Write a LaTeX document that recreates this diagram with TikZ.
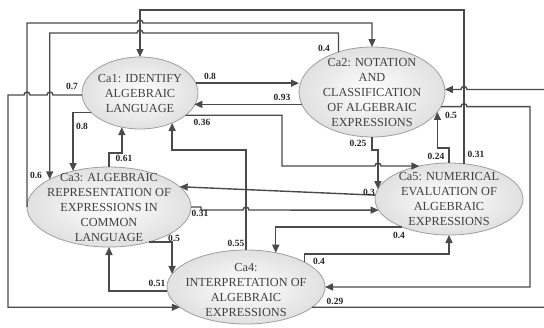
\documentclass[tikz,border=0pt]{standalone}
\usepackage{fontspec}
\setmainfont{Liberation Serif}
\usetikzlibrary{arrows.meta,shapes.geometric}
\definecolor{ln}{HTML}{4A4A4A}
\definecolor{tx}{HTML}{404040}
\definecolor{lb}{HTML}{262626}
\begin{document}
\begin{tikzpicture}[x=1pt,y=-1pt,
  ell/.style={ellipse,draw=gray!75,line width=0.8pt,inner color=white,outer color=gray!24,inner sep=0pt,outer sep=0pt},
  ntext/.style={align=center,text=tx,font=\fontsize{12.3}{15}\selectfont,inner sep=0pt},
  lab/.style={font=\fontsize{9.5}{10}\selectfont\bfseries,text=lb,inner sep=0pt},
  arr/.style={draw=ln,line width=1.4pt,-{Triangle[length=8pt,width=7pt]}},
]
\useasboundingbox (0,0) rectangle (544,327);
\fill[white] (0,0) rectangle (544,327);

% ellipses
\node[ell,minimum width=116pt,minimum height=72pt] (ca1) at (140,93) {};
\node[ell,minimum width=146pt,minimum height=90pt] (ca2) at (372,92) {};
\node[ell,minimum width=164pt,minimum height=80pt] (ca3) at (109,207) {};
\node[ell,minimum width=158pt,minimum height=74pt] (ca4) at (246,287) {};
\node[ell,minimum width=148pt,minimum height=72pt] (ca5) at (449,199) {};

\node[ntext] (t1) at (ca1) {Ca1: IDENTIFY\\ALGEBRAIC\\LANGUAGE};
\node[ntext] (t2) at (ca2) {Ca2: NOTATION\\AND\\CLASSIFICATION\\OF ALGEBRAIC\\EXPRESSIONS};
\node[ntext] (t3) at (ca3) {Ca3: ALGEBRAIC\\REPRESENTATION OF\\EXPRESSIONS IN\\COMMON\\LANGUAGE};
\node[ntext] (t4) at (246,290) {Ca4:\\INTERPRETATION OF\\ALGEBRAIC\\EXPRESSIONS};
\node[ntext] (t5) at (ca5) {Ca5: NUMERICAL\\EVALUATION OF\\ALGEBRAIC\\EXPRESSIONS};

% connectors
% Ca5 -> Ca1 (0.31)
\draw[arr] (ca5.67) -- (ca5.67 |- 0,10) -| (ca1.north);
% Ca3 -> Ca2 (0.6)
\draw[arr] (ca3.west) -- (ca3.west |- 0,23) -- (137,23) arc[start angle=180,end angle=0,radius=3pt] -- (ca2.north |- 0,23) -- (ca2.north);
% Ca2 -> Ca3 (0.4)
\draw[arr] (ca2.130) -- (ca2.130 |- 0,33) -- (143,33) arc[start angle=0,end angle=180,radius=3pt] -- (ca3.155 |- 0,33) -- (ca3.155);
% Ca1 -> Ca4 (0.7)
\draw[arr] (ca1.182) -- (ca1.182 -| 53,0) arc[start angle=0,end angle=180,radius=3pt] -- (ca1.182 -| 30,0) arc[start angle=0,end angle=180,radius=3pt] -- (ca1.182 -| 8,0) |- (ca4.197);
% Ca1 -> Ca2 (0.8)
\draw[arr] (ca1.10) -- (ca2.west |- ca1.10);
% Ca2 -> Ca1 (0.93)
\draw[arr] (ca2.190) -- (ca1.-13 |- ca2.190);
% Ca1 -> Ca5 (0.36)
\draw[arr] (ca1.-26) -| (282,166) -- (375,166) arc[start angle=180,end angle=0,radius=3pt] -- (ca5.132);
% Ca2 -> Ca5 (0.25)
\draw[arr] (ca2.south) -- (ca2.south |- 0,150) -| (ca5.172);
% Ca5 -> Ca3 (0.3)
\draw[arr] (ca5.177) -- (ca3.16);
% Ca3 -> Ca5 (0.31)
\draw[arr] (ca3.east) -- (201,207) -- (201,210) -- (243,210) arc[start angle=180,end angle=0,radius=3pt] -- (ca5.189);
% Ca3 -> Ca1 (0.61)
\draw[arr] (ca3.north) -- (ca3.north |- 0,153) -| (ca1.242);
% Ca1 -> Ca3 (0.8)
\draw[arr] (ca1.202) -| (ca3.135);
% Ca4 -> Ca1 (0.55)
\draw[arr] (ca4.north) -- (ca4.north |- 0,150) -| (ca1.-43);
% Ca3 -> Ca4 (0.5)
\draw[arr] (ca3.-41) -| (ca4.170);
% Ca4 -> Ca3 (0.51)
\draw[arr] (ca4.183) -| (ca3.south);
% Ca5 -> Ca4 (0.4)
\draw[arr] (ca5.211) -| (ca4.49);
% Ca4 -> Ca5 (0.4)
\draw[arr] (ca4.23) -- (ca4.23 |- 0,254) -| (ca5.south);
% Ca2 -> Ca4 (0.5)
\draw[arr] (ca2.-12) -- (ca2.-12 -| 461,0) arc[start angle=180,end angle=0,radius=3pt] -- (ca2.-12 -| 530,0) |- (ca4.east);
% Ca5 -> Ca2 (0.24)
\draw[arr] (ca5.north) -- (ca5.north |- 0,148) -| (ca2.-17);
% Ca4 -> Ca2 (0.29)
\draw[arr] (ca4.-17) -- (ca4.-17 -| 560,0) |- (ca2.2 -| 467,0) arc[start angle=0,end angle=180,radius=3pt] -- (ca2.2);

% labels
\node[lab] (l1) at (476,154) {0.31};
\node[lab] (l2) at (36,175) {0.6};
\node[lab] (l3) at (324,48) {0.4};
\node[lab] (l4) at (72,86) {0.7};
\node[lab] (l5) at (210,76) {0.8};
\node[lab] (l6) at (282,97) {0.93};
\node[lab] (l7) at (202,122) {0.36};
\node[lab] (l8) at (358,143) {0.25};
\node[lab] (l9) at (369,192) {0.3};
\node[lab] (l10) at (200,213) {0.31};
\node[lab] (l11) at (124,158) {0.61};
\node[lab] (l12) at (82,126) {0.8};
\node[lab] (l13) at (236,243) {0.55};
\node[lab] (l14) at (174,238) {0.5};
\node[lab] (l15) at (157,283) {0.51};
\node[lab] (l16) at (399,235) {0.4};
\node[lab] (l17) at (319,261) {0.4};
\node[lab] (l18) at (451,115) {0.5};
\node[lab] (l19) at (436,156) {0.24};
\node[lab] (l20) at (335,301) {0.29};
\end{tikzpicture}
\end{document}
